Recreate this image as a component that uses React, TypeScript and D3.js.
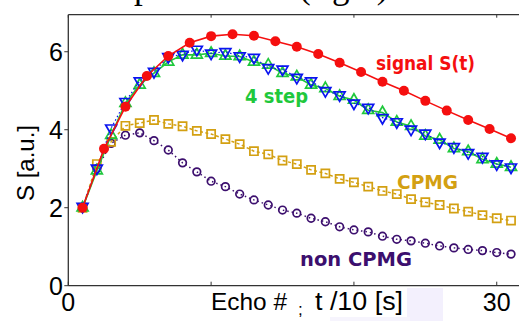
import React from "react";
import * as d3 from "d3";

// ---- data ----
const signalX = [1, 2.5, 4, 5.5, 7, 8.5, 10, 11.5, 13, 14.5, 16, 17.5, 19, 20.5, 22, 23.5, 25, 26.5, 28, 29.5, 31];
const signalY = [2.0, 3.51, 4.59, 5.38, 5.89, 6.23, 6.4, 6.45, 6.41, 6.27, 6.13, 5.94, 5.72, 5.48, 5.23, 5.0, 4.74, 4.49, 4.25, 4.02, 3.78];

const echoX = [1, 2, 3, 4, 5, 6, 7, 8, 9, 10, 11, 12, 13, 14, 15, 16, 17, 18, 19, 20, 21, 22, 23, 24, 25, 26, 27, 28, 29, 30, 31];
const stepUpY = [2.0, 2.95, 3.86, 4.68, 5.15, 5.45, 5.74, 5.92, 5.92, 5.96, 5.89, 5.88, 5.74, 5.66, 5.45, 5.36, 5.15, 5.06, 4.86, 4.76, 4.5, 4.44, 4.2, 4.09, 3.84, 3.74, 3.52, 3.44, 3.24, 3.12, 3.04];
const stepDownY = [2.03, 3.01, 4.04, 4.72, 5.25, 5.49, 5.87, 5.93, 6.06, 5.96, 6.0, 5.89, 5.85, 5.59, 5.55, 5.34, 5.25, 5.0, 4.89, 4.68, 4.57, 4.31, 4.2, 4.01, 3.91, 3.68, 3.56, 3.41, 3.31, 3.12, 3.04];
const cpmgY = [2.0, 3.12, 3.69, 4.1, 4.17, 4.25, 4.15, 4.09, 3.97, 3.89, 3.76, 3.63, 3.45, 3.37, 3.21, 3.12, 2.97, 2.88, 2.74, 2.65, 2.54, 2.43, 2.35, 2.22, 2.14, 2.07, 1.98, 1.9, 1.81, 1.73, 1.67];
const nonCpmgY = [2.0, 3.0, 3.65, 3.86, 3.92, 3.72, 3.48, 3.15, 2.92, 2.68, 2.54, 2.35, 2.2, 2.07, 1.94, 1.86, 1.73, 1.64, 1.51, 1.43, 1.38, 1.27, 1.19, 1.15, 1.09, 1.02, 0.97, 0.93, 0.9, 0.85, 0.81];

const xTicks = [0, 10, 20, 30];
const xTickLabels = ["0", "", "", "30"];
const yTicks = [0, 2, 4, 6];
const yTickLabels = ["0", "2", "4", "6"];

const labelSignal = "signal S(t)";
const labelStep = "4 step";
const labelCpmg = "CPMG";
const labelNon = "non CPMG";
const xLabelA = "Echo #";
const xLabelB = ";";
const xLabelC = "t /10 [s]";
const yLabel = "S [a.u.]";
const titleA = "Experimental";
const titleB = "(right)";

const W = 519;
const H = 321;

export default function App() {
  const x = d3.scaleLinear().domain([0, 32]).range([68.3, 525.3]);
  const y = d3.scaleLinear().domain([0, 6.95]).range([285.7, 14.7]);

  const line = (xs: number[], ys: number[]) =>
    d3.line<number>().x((_, i) => x(xs[i])).y((v) => y(v))(ys) || "";

  const tri = d3.symbol().type(d3.symbolTriangle).size(52)() || "";
  const sq = d3.symbol().type(d3.symbolSquare).size(66)() || "";

  const red = "#f50f0f";
  const green = "#1fc83c";
  const blue = "#0a14f0";
  const gold = "#d3a012";
  const purple = "#3c0f6e";

  const sans = "'Liberation Sans', Arial, sans-serif";
  const labelFont = "'DejaVu Sans', sans-serif";

  return (
    <svg width={W} height={H} style={{ position: "absolute", left: 0, top: 0, background: "#fff" }}>
      {/* faint lavender artifact */}
      <rect x={407} y={288} width={36} height={33} fill="#f3f0fd" />
      <rect x={330} y={317} width={80} height={4} fill="#f6f4fd" />

      {/* cropped title */}
      <text y={-2} fontFamily="'Liberation Serif', serif" fontSize={35} fill="#000">
        <tspan x={95}>{titleA}</tspan>
        <tspan x={299}>{titleB}</tspan>
      </text>

      {/* frame */}
      <line x1={x(0)} x2={W} y1={y(6.95)} y2={y(6.95)} stroke="#333" strokeWidth={1.3} />
      <line x1={x(0)} x2={W} y1={y(0)} y2={y(0)} stroke="#333" strokeWidth={1.3} />
      <line x1={x(0)} x2={x(0)} y1={y(6.95)} y2={y(0)} stroke="#333" strokeWidth={1.3} />
      {xTicks.map((t) => (
        <g key={"xt" + t}>
          <line x1={x(t)} x2={x(t)} y1={y(0)} y2={y(0) - 4} stroke="#333" strokeWidth={1} />
          <line x1={x(t)} x2={x(t)} y1={y(6.95)} y2={y(6.95) + 3} stroke="#333" strokeWidth={1} />
        </g>
      ))}
      {yTicks.map((t) => (
        <line key={"yt" + t} x1={x(0) - 4} x2={x(0)} y1={y(t)} y2={y(t)} stroke="#333" strokeWidth={1} />
      ))}
      {yTicks.map((t, i) => (
        <text key={"yl" + t} x={63} y={y(t) + 9} textAnchor="end" fontFamily={sans} fontSize={25} fill="#000">
          {yTickLabels[i]}
        </text>
      ))}
      {xTicks.map((t, i) =>
        xTickLabels[i] ? (
          <text key={"xl" + t} x={x(t)} y={311} textAnchor="middle" fontFamily={sans} fontSize={25} fill="#000">
            {xTickLabels[i]}
          </text>
        ) : null
      )}

      {/* axis labels */}
      <text x={211} y={310} fontFamily={sans} fontSize={24} fill="#000" textLength={76} lengthAdjust="spacingAndGlyphs">{xLabelA}</text>
      <text x={298} y={315} fontFamily={sans} fontSize={17} fill="#000">{xLabelB}</text>
      <text x={315} y={310} fontFamily={sans} fontSize={25} fill="#000" textLength={88} lengthAdjust="spacingAndGlyphs">{xLabelC}</text>
      <text
        transform={`translate(34,163) rotate(-90)`}
        textAnchor="middle"
        fontFamily={sans}
        fontSize={24}
        fill="#000"
      >
        {yLabel}
      </text>

      {/* non CPMG */}
      <path d={line(echoX, nonCpmgY)} fill="none" stroke={purple} strokeWidth={1.5} strokeDasharray="1.5,3" />
      {nonCpmgY.map((v, i) => (
        <circle key={"p" + i} cx={x(echoX[i])} cy={y(v)} r={3.8} fill="none" stroke={purple} strokeWidth={1.7} />
      ))}

      {/* CPMG */}
      <path d={line(echoX, cpmgY)} fill="none" stroke={gold} strokeWidth={1.5} strokeDasharray="3,2.5" />
      {cpmgY.map((v, i) => (
        <path key={"g" + i} d={sq} transform={`translate(${x(echoX[i])},${y(v)})`} fill="none" stroke={gold} strokeWidth={1.7} />
      ))}

      {/* 4 step up-triangles */}
      <path d={line(echoX, stepUpY)} fill="none" stroke={green} strokeWidth={1.6} />
      {stepUpY.map((v, i) => (
        <path key={"u" + i} d={tri} transform={`translate(${x(echoX[i])},${y(v)})`} fill="none" stroke={green} strokeWidth={1.7} />
      ))}

      {/* down-triangles */}
      <path d={line(echoX, stepDownY)} fill="none" stroke={blue} strokeWidth={1.2} strokeDasharray="1.5,2.5" />
      {stepDownY.map((v, i) => (
        <path key={"d" + i} d={tri} transform={`translate(${x(echoX[i])},${y(v)}) rotate(180)`} fill="none" stroke={blue} strokeWidth={1.7} />
      ))}

      {/* signal */}
      <path d={line(signalX, signalY)} fill="none" stroke={red} strokeWidth={1.6} />
      {signalY.map((v, i) => (
        <circle key={"r" + i} cx={x(signalX[i])} cy={y(v)} r={5} fill={red} />
      ))}

      {/* annotations */}
      <text x={376} y={70} fontFamily={labelFont} fontWeight="bold" fontSize={19} fill={red} textLength={99} lengthAdjust="spacingAndGlyphs">{labelSignal}</text>
      <text x={245} y={103} fontFamily={labelFont} fontWeight="bold" fontSize={19} fill={green} textLength={63} lengthAdjust="spacingAndGlyphs">{labelStep}</text>
      <text x={397} y={189} fontFamily={labelFont} fontWeight="bold" fontSize={19} fill={gold} textLength={61} lengthAdjust="spacingAndGlyphs">{labelCpmg}</text>
      <text x={300} y={266} fontFamily={labelFont} fontWeight="bold" fontSize={19} fill={purple} textLength={112} lengthAdjust="spacingAndGlyphs">{labelNon}</text>
    </svg>
  );
}
